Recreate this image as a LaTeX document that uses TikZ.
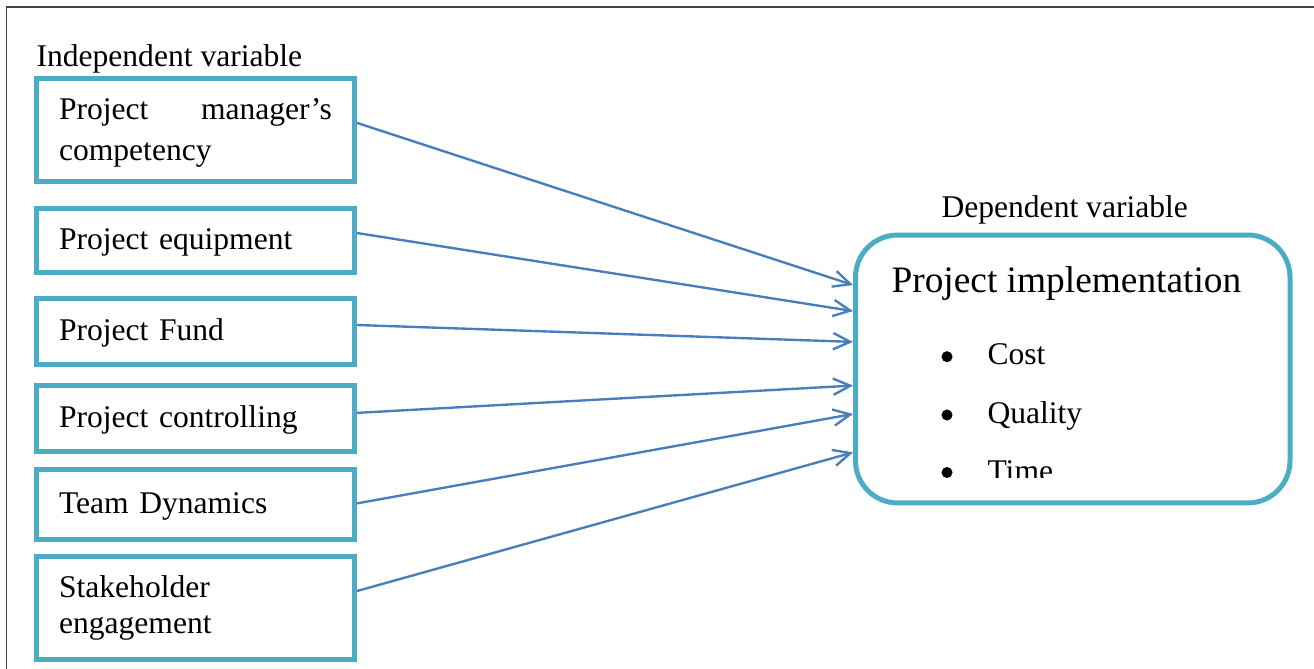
\documentclass[tikz,border=0pt]{standalone}
\usepackage{fontspec}
\setmainfont{Liberation Serif}
\usetikzlibrary{arrows.meta,positioning}

\definecolor{boxblue}{HTML}{4BACC6}
\definecolor{arrowblue}{HTML}{4A7EBB}

\begin{document}
\begin{tikzpicture}
  [x=0.38pt,y=-0.38pt,>={Straight Barb[length=6.5pt,width=6.2pt]},%单位与箭头样式
   ivbox/.style={rectangle,draw=boxblue,line width=1.9pt,minimum width=120.8pt,
     inner xsep=8.55pt,text width=103.7pt,align=left,font=\fontsize{12}{14}\selectfont},%左侧自变量方框
   single/.style={ivbox,text height=9.5pt,text depth=2.6pt},%单行方框
   dvbox/.style={rectangle,rounded corners=16pt,draw=boxblue,line width=1.9pt,
     minimum width=165.1pt,minimum height=101.8pt},%右侧因变量圆角框
   dot/.style={circle,fill=black,inner sep=0pt,minimum size=4.2pt},%项目符号
   link/.style={->,draw=arrowblue,line width=0.9pt},%连线
   caption/.style={anchor=base west,inner sep=0pt,font=\fontsize{12}{14}\selectfont}]%标题文字

  \useasboundingbox (0,0) rectangle (1314,669);
  \draw [black!75,line width=0.6pt] (6.7,669) -- (6.7,6.8) -- (1314,6.8);%外框

  % 自变量
  \node [ivbox,minimum height=39.1pt,font=\fontsize{12}{15.6}\selectfont]
        (b1) at (195.5,130)  {\rule{0pt}{10.5pt}Project\hfill manager's\\competency};
  \node [single,minimum height=24.3pt] (b2) [below=8.4pt of b1] {Project equipment};
  \node [single,minimum height=25.1pt] (b3) [below=8pt of b2]   {Project Fund};
  \node [single,minimum height=25.3pt] (b4) [below=5.9pt of b3] {Project controlling};
  \node [single,minimum height=26.6pt] (b5) [below=4.75pt of b4] {Team Dynamics};
  \node [ivbox,minimum height=39.1pt,font=\fontsize{12}{13.7}\selectfont]
        (b6) [below=4.75pt of b5] {Stakeholder\\engagement};
  \node [caption] (iv) at (36,67) {Independent variable};

  % 因变量
  \node [dvbox] (impl) at (1072.75,369) {};
  \node [caption] (dv) at (941,218) {Dependent variable};
  \node [caption,font=\fontsize{14.2}{17}\selectfont] (title) at (891,293) {Project implementation};
  \node [dot] (d1) at (947,356.7) {};
  \node [caption] (cost) at (987,365) {Cost};
  \node [dot] (d2) at (947,415) {};
  \node [caption] (quality) at (987,423.3) {Quality};
  \node [dot] (d3) at (947,472.5) {};
  \begin{scope}%最后一项在框内被截断
    \clip (980,440) rectangle (1100,478);
    \node [caption] (time) at (987,481.5) {Time};
  \end{scope}

  % 连线
  \draw [link] ([yshift=2.7pt]b1.east)  -- ([yshift=31.9pt]impl.west);
  \draw [link] ([yshift=2.85pt]b2.east) -- ([yshift=22pt]impl.west);
  \draw [link] ([yshift=2.5pt]b3.east)  -- ([yshift=10.3pt]impl.west);
  \draw [link] ([yshift=2.1pt]b4.east)  -- ([yshift=-6.3pt]impl.west);
  \draw [link] ([yshift=0.3pt]b5.east)  -- ([yshift=-17.1pt]impl.west);
  \draw [link] ([yshift=6.5pt]b6.east)  -- ([yshift=-31.7pt]impl.west);

\end{tikzpicture}
\end{document}
